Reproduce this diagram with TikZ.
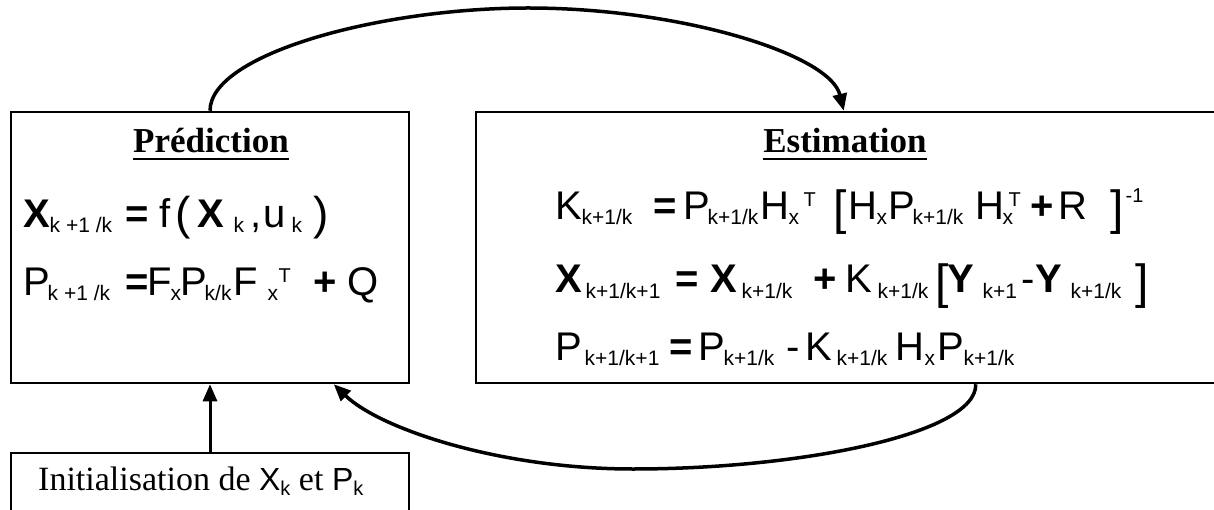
\documentclass[tikz,border=0pt]{standalone}
\usepackage{fontspec}
\setmainfont{Liberation Serif}
\newfontfamily\eqf{Liberation Sans}
\usetikzlibrary{arrows.meta,calc}
\newcommand\tok[2]{\rlap{\hspace*{#1pt}#2}}
\newcommand\lo[1]{\raisebox{-5pt}{\fontsize{21}{21}\selectfont #1}}
\newcommand\hi[1]{\raisebox{13pt}{\fontsize{20}{20}\selectfont #1}}
\newcommand\hii[1]{\raisebox{17pt}{\fontsize{20}{20}\selectfont #1}}
\newcommand\bx[1]{\textbf{#1}}
\newcommand\brk[1]{\raisebox{-5pt}{\fontsize{48}{48}\selectfont #1}}
\newcommand\prn[1]{\raisebox{-2pt}{\fontsize{46}{46}\selectfont #1}}
\newcommand\isans[1]{{\eqf\fontsize{32}{32}\selectfont #1\raisebox{-5pt}{\fontsize{20}{20}\selectfont k}}}
\tikzset{
  box/.style={draw,line width=2.5pt,inner sep=0pt},
  eq/.style={anchor=base west,inner sep=0pt,font=\eqf\fontsize{40}{42}\selectfont},
  ttl/.style={anchor=base,inner sep=0pt,font=\bfseries\fontsize{35}{38}\selectfont},
  arr/.style={line width=3.5pt,-{Triangle[length=17pt,width=14pt]}},
}
\begin{document}
\begin{tikzpicture}[x=1pt,y=1pt]
\useasboundingbox (0,0) rectangle (1214,509);
\clip (0,0) rectangle (1214,509);
\fill[white] (0,0) rectangle (1214,509);
% boxes
\node[box,minimum width=398pt,minimum height=271pt] (pred) at (210,261.5) {};
\node[box,minimum width=760pt,minimum height=271pt] (est) at (856,261.5) {};
\node[box,minimum width=398pt,minimum height=86pt] (init) at (210,13) {};
% titles
\node[ttl] (ptitle) at (211,356) {Prédiction};
\node[ttl] (etitle) at (845,356) {Estimation};
\draw[line width=2pt] ([yshift=-6pt]ptitle.base west) -- ([yshift=-6pt]ptitle.base east);
\draw[line width=2pt] ([yshift=-6pt]etitle.base west) -- ([yshift=-6pt]etitle.base east);
% prediction equations
\node[eq] (pl1) at (23,281) {\tok{0}{\bx{X}}\tok{26}{\lo{k +1 /k}}\tok{102}{\bx{=}}\tok{136}{f}\tok{152}{\prn{(}}\tok{174}{\bx{X}}\tok{210}{\lo{k}}\tok{227}{,}\tok{240}{u}\tok{268}{\lo{k}}\tok{290}{\prn{)}}};
\node[eq] (pl2) at (23,214) {\tok{0}{P}\tok{24}{\lo{k +1 /k}}\tok{102}{\bx{=}}\tok{124}{F}\tok{147}{\lo{x}}\tok{157}{P}\tok{181}{\lo{k/k}}\tok{210}{F}\tok{244}{\lo{x}}\tok{255}{\hi{T}}\tok{290}{\bx{+}}\tok{324}{Q}};
% estimation equations
\node[eq] (el1) at (555,289) {\tok{0}{K}\tok{26}{\lo{k+1/k}}\tok{98}{\bx{=}}\tok{128}{P}\tok{152}{\lo{k+1/k}}\tok{205}{H}\tok{233}{\lo{x}}\tok{248}{\hi{T}}\tok{278}{\brk{[}}\tok{293}{H}\tok{321}{\lo{x}}\tok{333}{P}\tok{357}{\lo{k+1/k}}\tok{420}{H}\tok{447}{\lo{x}}\tok{453}{\hi{T}}\tok{475}{\bx{+}}\tok{503}{R}\tok{555}{\brk{]}}\tok{570}{\hii{-1}}};
\node[eq] (el2) at (555,216) {\tok{0}{\bx{X}}\tok{30}{\lo{k+1/k+1}}\tok{120}{\bx{=}}\tok{155}{\bx{X}}\tok{186}{\lo{k+1/k}}\tok{258}{\bx{+}}\tok{290}{K}\tok{322}{\lo{k+1/k}}\tok{380}{\brk{[}}\tok{392}{\bx{Y}}\tok{427}{\lo{k+1}}\tok{466}{-}\tok{480}{\bx{Y}}\tok{515}{\lo{k+1/k}}\tok{580}{\brk{]}}};
\node[eq] (el3) at (555,149) {\tok{0}{P}\tok{29}{\lo{k+1/k+1}}\tok{114}{\bx{=}}\tok{143}{P}\tok{168}{\lo{k+1/k}}\tok{231}{-}\tok{250}{K}\tok{281}{\lo{k+1/k}}\tok{340}{H}\tok{369}{\lo{x}}\tok{382}{P}\tok{408}{\lo{k+1/k}}};
% initialisation text
\node[anchor=base west,inner sep=0pt,font=\fontsize{34}{36}\selectfont] (itxt) at (38,19) {Initialisation de \isans{X} et \isans{P}};
% connectors
\draw[line width=3pt,-{Triangle[length=17pt,width=14pt]}] (init.north) -- (pred.south);
\draw[arr] (pred.north) .. controls (210,455) and (380,501) .. (528,501)
  .. controls (680,501) and (830,455) .. ($(est.north west)+(369,0)$);
\draw[arr] ($(est.south west)+(501,0)$) .. controls (977,75) and (800,40) .. (633,40)
  .. controls (500,40) and (380,80) .. ($(pred.south west)+(324,0)$);
\end{tikzpicture}
\end{document}
